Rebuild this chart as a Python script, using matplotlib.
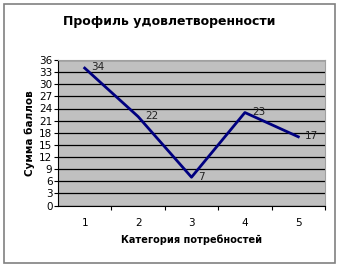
import matplotlib
matplotlib.use("Agg")
import matplotlib.pyplot as plt
from matplotlib.patches import Rectangle

categories = [1, 2, 3, 4, 5]
values = [34, 22, 7, 23, 17]
yticks = list(range(0, 37, 3))

W, H = 339, 269
fig = plt.figure(figsize=(W/100, H/100), dpi=100)
fig.patch.set_facecolor("white")
fig.add_artist(Rectangle((4/W, 1-263/H), 331/W, 259/H, transform=fig.transFigure,
                         fill=False, edgecolor="#808080", linewidth=1.2))

left, right, top, bottom = 58, 325, 60, 205.5
ax = fig.add_axes([left/W, 1-bottom/H, (right-left)/W, (bottom-top)/H])
ax.set_facecolor("#c0c0c0")
ax.plot(categories, values, color="#000080", linewidth=2)
for x, y in zip(categories, values):
    ax.annotate(str(y), (x, y), xytext=(5, 0.5), textcoords="offset points",
                fontsize=7.5, color="#222222", va="center", ha="left")
ax.set_xlim(0.5, 5.5)
ax.set_ylim(0, 36)
ax.set_yticks(yticks)
ax.set_yticklabels([str(t) for t in yticks], fontsize=7.5)
ax.yaxis.grid(True, color="black", linewidth=0.9)
ax.set_axisbelow(True)
ax.set_xticks([1.5, 2.5, 3.5, 4.5, 5.5])
ax.set_xticklabels([])
ax.set_xticks(categories, minor=True)
ax.set_xticklabels([str(c) for c in categories], minor=True, fontsize=7.5)
ax.tick_params(axis="x", which="minor", length=0, pad=9)
ax.tick_params(axis="x", which="major", length=3, direction="out")
ax.tick_params(axis="y", length=3, pad=1)
for s in ["top", "right"]:
    ax.spines[s].set_color("#a0a0a0")
ax.spines["left"].set_color("black")
ax.spines["bottom"].set_color("black")
ax.set_xlabel("Категория потребностей", fontsize=7, fontweight="bold", labelpad=5)
ax.set_ylabel("Сумма баллов", fontsize=7.5, fontweight="bold", labelpad=3)
fig.text(0.5, 1-22/H, "Профиль удовлетворенности", ha="center", va="center",
         fontsize=9, fontweight="bold")
fig.savefig("out.png", dpi=100)
